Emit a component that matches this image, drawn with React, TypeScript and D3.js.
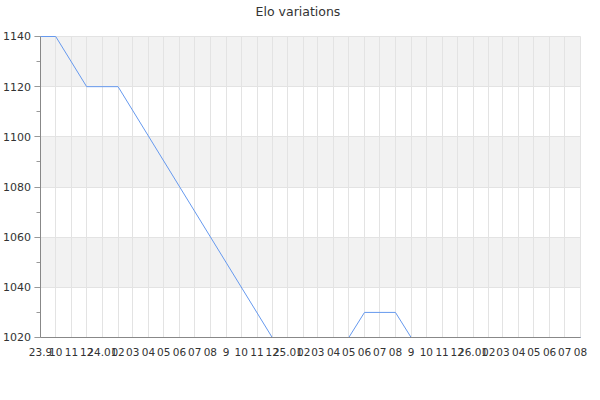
import * as d3 from "d3";

// Elo history (monthly points where the curve changes)
const pointDates = [
  "2023-09", "2023-10", "2023-12", "2024-02", "2024-12",
  "2025-05", "2025-06", "2025-08", "2025-09", "2026-08",
];
const pointElo = [1140, 1140, 1120, 1120, 1020, 1020, 1030, 1030, 1020, 1020];

// x-axis ticks: one per month, labels as the original renders them
const tickMonths = [
  "2023-09", "2023-10", "2023-11", "2023-12",
  "2024-01", "2024-02", "2024-03", "2024-04", "2024-05", "2024-06",
  "2024-07", "2024-08", "2024-09", "2024-10", "2024-11", "2024-12",
  "2025-01", "2025-02", "2025-03", "2025-04", "2025-05", "2025-06",
  "2025-07", "2025-08", "2025-09", "2025-10", "2025-11", "2025-12",
  "2026-01", "2026-02", "2026-03", "2026-04", "2026-05", "2026-06",
  "2026-07", "2026-08",
];
const tickLabels = [
  "23.9", "10", "11", "12",
  "24.01", "02", "03", "04", "05", "06", "07", "08", "9", "10", "11", "12",
  "25.01", "02", "03", "04", "05", "06", "07", "08", "9", "10", "11", "12",
  "26.01", "02", "03", "04", "05", "06", "07", "08",
];

const yMajor = [1020, 1040, 1060, 1080, 1100, 1120, 1140];
const yMinor = [1030, 1050, 1070, 1090, 1110, 1130];
const bands: [number, number][] = [[1120, 1140], [1080, 1100], [1040, 1060]];

const parse = d3.timeParse("%Y-%m");

export default function App() {
  const width = 600;
  const height = 400;
  const m = { top: 36, right: 20, bottom: 63, left: 40 };
  const w = width - m.left - m.right;
  const h = height - m.top - m.bottom;

  const x = d3.scaleTime()
    .domain([parse(tickMonths[0])!, parse(tickMonths[tickMonths.length - 1])!])
    .range([0, w]);
  const y = d3.scaleLinear().domain([1020, 1140]).range([h, 0]);
  const xr = (t: string) => Math.round(x(parse(t)!));
  const yr = (v: number) => Math.round(y(v));

  const data = pointDates.map((d, i) => ({ date: parse(d)!, elo: pointElo[i] }));
  const line = d3.line<{ date: Date; elo: number }>()
    .x((d) => x(d.date))
    .y((d) => y(d.elo));

  const font = "DejaVu Sans, sans-serif";

  return (
    <svg width={width} height={height}
      style={{ position: "absolute", left: 0, top: 0, background: "#fff" }}>
      <text x={298} y={16} textAnchor="middle" fontSize={12.5}
        fontFamily={font} fill="#333">Elo variations</text>
      <g transform={`translate(${m.left + 0.5},${m.top + 0.5})`}>
        {bands.map(([lo, hi]) => (
          <rect key={lo} x={0} y={yr(hi)} width={w} height={yr(lo) - yr(hi)} fill="#f2f2f2" />
        ))}
        {tickMonths.map((t) => (
          <line key={t} x1={xr(t)} x2={xr(t)} y1={0} y2={h}
            stroke="#e3e3e3" strokeWidth={1} />
        ))}
        {yMajor.map((v) => (
          <line key={v} x1={-6} x2={w} y1={yr(v)} y2={yr(v)} stroke="#e3e3e3" strokeWidth={1} />
        ))}
        {yMajor.map((v) => (
          <line key={"t" + v} x1={-6} x2={0} y1={yr(v)} y2={yr(v)} stroke="#999" strokeWidth={1} />
        ))}
        {yMinor.map((v) => (
          <line key={v} x1={-4} x2={0} y1={yr(v)} y2={yr(v)} stroke="#999" strokeWidth={1} />
        ))}
        <path d={line(data) ?? ""} fill="none" stroke="#6699ee" strokeWidth={1} />
        <line x1={0} x2={0} y1={0} y2={h} stroke="#888" strokeWidth={1} />
        <line x1={0} x2={w} y1={h} y2={h} stroke="#888" strokeWidth={1} />
        {yMajor.map((v) => (
          <text key={v} x={-9.5} y={y(v)} dy="0.35em" textAnchor="end"
            fontSize={11} fontFamily={font} fill="#333">{v}</text>
        ))}
        {tickMonths.map((t, i) => (
          <text key={t} x={x(parse(t)!)} y={h + 18} textAnchor="middle"
            fontSize={10.5} fontFamily={font} fill="#333">{tickLabels[i]}</text>
        ))}
      </g>
    </svg>
  );
}
